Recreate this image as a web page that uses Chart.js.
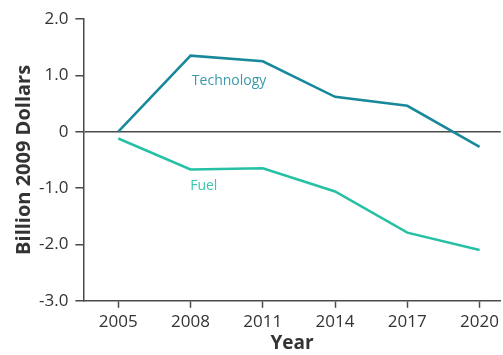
<!DOCTYPE html>
<html lang="en">
<head>
    <meta charset="UTF-8">
    <title>Cost Savings by Year</title>
    <script src="https://cdn.jsdelivr.net/npm/chart.js"></script>
    <style>
        body { margin: 0; background: #fff; }
        #wrap { width: 503px; height: 355px; position: relative; }
    </style>
</head>
<body>
    <div id="wrap"><canvas id="savings_chart"></canvas></div>
    <script>
        var years = [2005, 2008, 2011, 2014, 2017, 2020];
        var technology = [0, 1.35, 1.25, 0.62, 0.46, -0.27];
        var fuel = [-0.12, -0.67, -0.65, -1.06, -1.79, -2.1];
        var yTicks = [2, 1, 0, -1, -2, -3];

        var axisColor = '#4a4a4a';
        var techColor = '#17899a';
        var fuelColor = '#26c0a5';

        // series names written next to the lines, at data coordinates
        var lineLabels = [
            { text: 'Technology', x: 2009.6, y: 0.9, color: '#3a9aaa' },
            { text: 'Fuel', x: 2008.55, y: -0.97, color: '#3cc5ad' }
        ];

        var labelPlugin = {
            id: 'lineLabels',
            afterDatasetsDraw: function(chart) {
                var ctx = chart.ctx;
                ctx.save();
                ctx.font = '14px "Open Sans"';
                ctx.textAlign = 'center';
                ctx.textBaseline = 'middle';
                lineLabels.forEach(function(l) {
                    ctx.fillStyle = l.color;
                    ctx.fillText(l.text, chart.scales.x.getPixelForValue(l.x), chart.scales.y.getPixelForValue(l.y));
                });
                ctx.restore();
            }
        };

        var ctx = document.getElementById('savings_chart').getContext('2d');
        var chart = new Chart(ctx, {
            type: 'line',
            data: {
                datasets: [{
                    label: 'Technology',
                    data: years.map(function(y, i) { return { x: y, y: technology[i] }; }),
                    borderColor: techColor,
                    borderWidth: 2.5,
                    pointRadius: 0,
                    tension: 0,
                    fill: false
                }, {
                    label: 'Fuel',
                    data: years.map(function(y, i) { return { x: y, y: fuel[i] }; }),
                    borderColor: fuelColor,
                    borderWidth: 2.5,
                    pointRadius: 0,
                    tension: 0,
                    fill: false
                }]
            },
            options: {
                responsive: true,
                maintainAspectRatio: false,
                animation: false,
                layout: { padding: { top: 19, right: 0, bottom: 0, left: 14 } },
                plugins: {
                    legend: { display: false },
                    tooltip: { enabled: false }
                },
                scales: {
                    x: {
                        type: 'linear',
                        min: 2003.55,
                        max: 2020.88,
                        afterBuildTicks: function(scale) {
                            scale.ticks = years.map(function(v) { return { value: v }; });
                        },
                        border: { display: true, color: axisColor, width: 1.5 },
                        grid: { drawOnChartArea: false, drawTicks: true, tickLength: 7, tickColor: axisColor, tickWidth: 1.5 },
                        ticks: {
                            color: '#333',
                            font: { family: '"Open Sans"', size: 17 },
                            padding: 4,
                            maxRotation: 0,
                            callback: function(v) { return String(v); }
                        },
                        title: {
                            display: true,
                            text: 'Year',
                            color: '#333',
                            font: { family: '"Open Sans"', size: 19, weight: 'bold' },
                            padding: { top: -4, bottom: 0 }
                        }
                    },
                    y: {
                        min: -3,
                        max: 2,
                        afterBuildTicks: function(scale) {
                            scale.ticks = yTicks.map(function(v) { return { value: v }; });
                        },
                        border: { display: true, color: axisColor, width: 1.5 },
                        grid: {
                            drawTicks: true,
                            tickLength: 8,
                            tickColor: axisColor,
                            tickWidth: 1.5,
                            lineWidth: 1.5,
                            color: function(c) { return c.tick && c.tick.value === 0 ? axisColor : 'rgba(0,0,0,0)'; }
                        },
                        ticks: {
                            color: '#333',
                            font: { family: '"Open Sans"', size: 17 },
                            padding: 7,
                            callback: function(v) { return v === 0 ? '0' : v.toFixed(1); }
                        },
                        title: {
                            display: true,
                            text: 'Billion 2009 Dollars',
                            color: '#333',
                            font: { family: '"Open Sans"', size: 20, weight: 'bold', lineHeight: 1 },
                            padding: { top: 0, bottom: -2 }
                        }
                    }
                }
            },
            plugins: [labelPlugin]
        });
    </script>
</body>
</html>
